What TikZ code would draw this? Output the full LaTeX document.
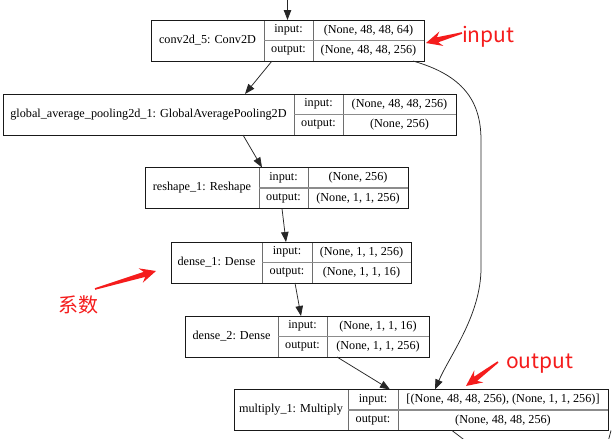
\documentclass[tikz,border=0pt]{standalone}
\usepackage{fontspec}
\setmainfont{Liberation Serif}
\newfontfamily\cjkfont{Noto Sans CJK SC}
\usetikzlibrary{arrows.meta,calc}
\definecolor{annred}{RGB}{245,28,28}
\definecolor{cellline}{RGB}{110,110,110}
\newcommand\kbfont{\fontsize{12.2}{14}\selectfont}
% id, x0, x1, x2, x3, y0, name, input, output
\newcommand\kerasbox[9]{%
  \pgfmathsetmacro\kbyc{#6+20.5}%
  \pgfmathsetmacro\kbyi{#6+10.25}%
  \pgfmathsetmacro\kbyo{#6+30.75}%
  \node[cell, minimum width={(#3-#2)*1pt}, minimum height=41pt] (#1n) at ({(#2+#3)/2},\kbyc) {#7};
  \node[cell, minimum width={(#4-#3)*1pt}, minimum height=20.5pt] (#1i) at ({(#3+#4)/2},\kbyi) {input:};
  \node[cell, minimum width={(#4-#3)*1pt}, minimum height=20.5pt] (#1o) at ({(#3+#4)/2},\kbyo) {output:};
  \node[cell, minimum width={(#5-#4)*1pt}, minimum height=20.5pt] (#1iv) at ({(#4+#5)/2},\kbyi) {#8};
  \node[cell, minimum width={(#5-#4)*1pt}, minimum height=20.5pt] (#1ov) at ({(#4+#5)/2},\kbyo) {#9};
  \draw[midline] (#1i.south west) -- (#1iv.south east);
  \node[frame, minimum width={(#5-#2)*1pt}, minimum height=41pt] (#1) at ({(#2+#5)/2},\kbyc) {};
}
\newcommand\redarrow[2]{%
  \fill[annred] ($(#1)!0.8pt!90:(#2)$) -- ($($(#2)!12pt!(#1)$)!2.6pt!90:(#2)$) -- ($($(#2)!16pt!(#1)$)!7.5pt!90:(#2)$) -- (#2)
     -- ($($(#2)!16pt!(#1)$)!7.5pt!-90:(#2)$) -- ($($(#2)!12pt!(#1)$)!2.6pt!-90:(#2)$) -- ($(#1)!0.8pt!-90:(#2)$) -- cycle;
}
\tikzset{
  cell/.style={draw=cellline, line width=0.8pt, inner sep=0pt, outer sep=0pt, font=\kbfont, text=black},
  midline/.style={draw=black!45, line width=1.6pt},
  frame/.style={draw=black!90, line width=0.9pt, inner sep=0pt, outer sep=0pt},
  conn/.style={draw=black!85, line width=0.75pt, -{Triangle[length=10pt,width=7.5pt]}},
  plainconn/.style={draw=black!85, line width=0.75pt},
  annot/.style={text=annred, font=\cjkfont\fontsize{21}{24}\selectfont, inner sep=0pt, anchor=base west},
}
\begin{document}
\begin{tikzpicture}[x=1pt,y=-1pt]
\useasboundingbox (0,0) rectangle (614,439);
\fill[white] (0,0) rectangle (614,439);

\kerasbox{L1}{151}{264}{313}{424}{20}{conv2d\_5: Conv2D}{(None, 48, 48, 64)}{(None, 48, 48, 256)}
\kerasbox{L2}{3}{294}{343}{456}{94}{global\_average\_pooling2d\_1: GlobalAveragePooling2D}{(None, 48, 48, 256)}{(None, 256)}
\kerasbox{L3}{145}{259}{308}{408}{167.5}{reshape\_1: Reshape}{(None, 256)}{(None, 1, 1, 256)}
\kerasbox{L4}{171}{262}{312}{411}{242}{dense\_1: Dense}{(None, 1, 1, 256)}{(None, 1, 1, 16)}
\kerasbox{L5}{185}{278}{327}{429}{316}{dense\_2: Dense}{(None, 1, 1, 16)}{(None, 1, 1, 256)}
\kerasbox{L6}{234}{348}{398}{608}{389.5}{multiply\_1: Multiply}{[(None, 48, 48, 256), (None, 1, 1, 256)]}{(None, 48, 48, 256)}

% connectors
\coordinate (topin) at (287.5,-2);
\draw[conn] (topin) -- (L1.north);
\draw[conn] ([xshift=-15.5pt]L1.south) -- ([xshift=15.5pt]L2.north);
\draw[conn] ([xshift=13.5pt]L2.south) -- ([xshift=-14.5pt]L3.north);
\draw[conn] ([xshift=5.5pt]L3.south) -- ([xshift=-5pt]L4.north);
\draw[conn] ([xshift=4pt]L4.south) -- ([xshift=-6pt]L5.north);
\draw[conn] ([xshift=30pt]L5.south) -- ([xshift=-31pt]L6.north);
\draw[conn] ([xshift=125.5pt]L1.south) .. controls (462,75) and (481,100) .. (481,140)
   -- (481,268) .. controls (481,315) and (450,355) .. ([xshift=14pt]L6.north);
\coordinate (exitA) at (467,442);
\coordinate (exitB) at (608,442);
\draw[plainconn] ([xshift=31pt]L6.south) -- (exitA);
\draw[plainconn] ([xshift=190pt]L6.south) -- (exitB);

% annotations
\coordinate (inTail) at (462,33);
\coordinate (inTip) at (426,43);
\redarrow{inTail}{inTip}
\node[annot] (inLabel) at (462,42) {input};
\coordinate (outTail) at (498,362);
\coordinate (outTip) at (466,386);
\redarrow{outTail}{outTip}
\node[annot] (outLabel) at (506,368) {output};
\coordinate (coefTail) at (95,289);
\coordinate (coefTip) at (156,271);
\redarrow{coefTail}{coefTip}
\node[annot, font=\cjkfont\fontsize{20}{24}\selectfont] (coefLabel) at (58,312) {系数};
\end{tikzpicture}
\end{document}
